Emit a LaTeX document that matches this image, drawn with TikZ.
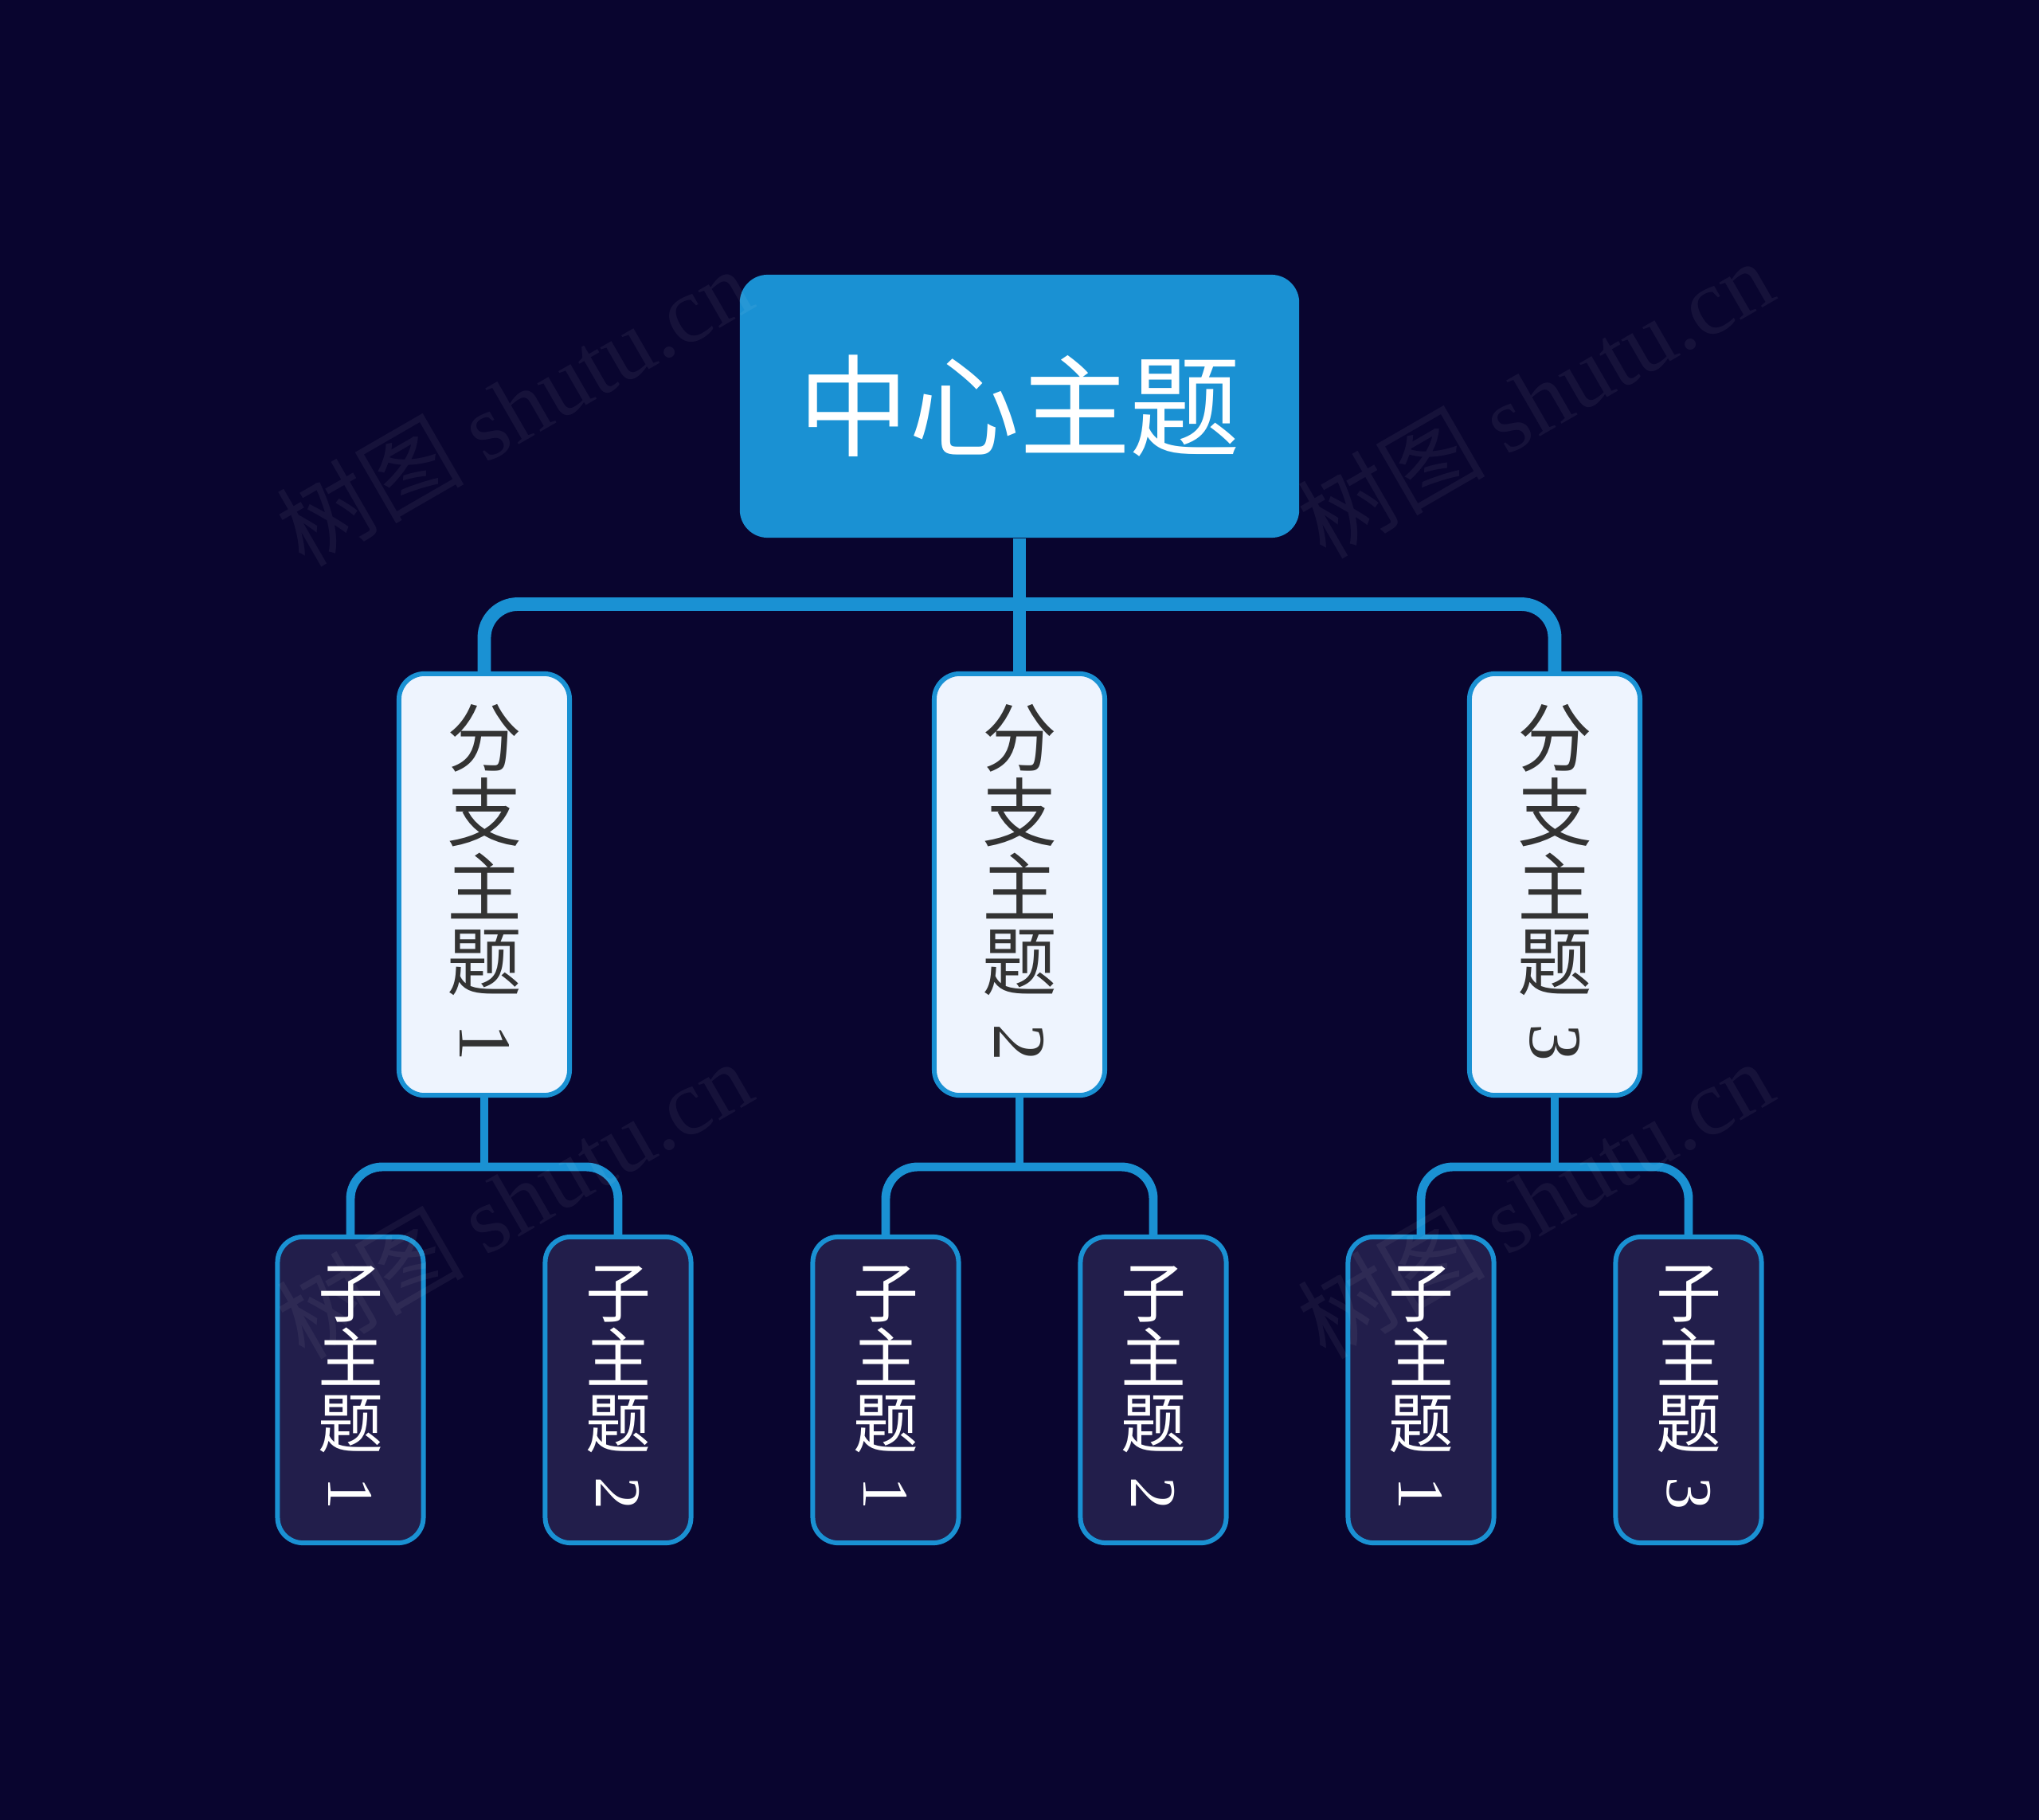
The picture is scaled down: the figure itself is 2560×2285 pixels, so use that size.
\documentclass[tikz,border=0pt]{standalone}
\usepackage{graphicx}
\usepackage{fontspec}
\setmainfont{Noto Sans CJK SC}
\newfontfamily\numf{Liberation Serif}
\newfontfamily\wmlatin{Liberation Serif}
\definecolor{bgc}{HTML}{09052F}
\definecolor{mainblue}{HTML}{1A91D3}
\definecolor{brfill}{HTML}{EEF4FE}
\definecolor{subfill}{HTML}{221E4B}
\definecolor{brtext}{HTML}{333333}
\newcommand{\rotnum}[1]{\raisebox{0.55em}{\rotatebox{-90}{\numf #1}}}
\tikzset{
  centerbox/.style={fill=mainblue, rounded corners=0.35cm, minimum width=7.02cm,
    minimum height=3.30cm, inner sep=0pt, text=white,
    font=\fontsize{39.5pt}{39.5pt}\selectfont},
  branchbox/.style={draw=mainblue, line width=1.7pt, fill=brfill, rounded corners=0.32cm,
    minimum width=2.14cm, minimum height=5.29cm, inner sep=0pt, text=brtext, align=center,
    font=\fontsize{26.7pt}{26.7pt}\selectfont},
  subbox/.style={draw=mainblue, line width=1.7pt, fill=subfill, rounded corners=0.32cm,
    minimum width=1.83cm, minimum height=3.84cm, inner sep=0pt, text=white, align=center,
    font=\fontsize{23.3pt}{23.3pt}\selectfont},
  mainlink/.style={draw=mainblue, line width=4.8pt, rounded corners=0.42cm},
  sublink/.style={draw=mainblue, line width=3.1pt, rounded corners=0.40cm},
  watermark/.style={text=white, text opacity=0.055, rotate=30, inner sep=0pt,
    font=\fontsize{33.5pt}{33.5pt}\selectfont}
}
\begin{document}
\begin{tikzpicture}[x=0.01cm,y=-0.01cm]
\fill[bgc] (0,0) rectangle (2560,2285);
\useasboundingbox (0,0) rectangle (2560,2285);

% nodes
\node[centerbox] (c) at (1280,510) {中心主题};

\node[branchbox] (b1) at (608,1110.5) {分\\支\\主\\题\\\rotnum{1}};
\node[branchbox] (b2) at (1280,1110.5) {分\\支\\主\\题\\\rotnum{2}};
\node[branchbox] (b3) at (1952,1110.5) {分\\支\\主\\题\\\rotnum{3}};

\node[subbox] (s1) at (440,1745) {子\\主\\题\\\rotnum{1}};
\node[subbox] (s2) at (776,1745) {子\\主\\题\\\rotnum{2}};
\node[subbox] (s3) at (1112,1745) {子\\主\\题\\\rotnum{1}};
\node[subbox] (s4) at (1448,1745) {子\\主\\题\\\rotnum{2}};
\node[subbox] (s5) at (1784,1745) {子\\主\\题\\\rotnum{1}};
\node[subbox] (s6) at (2120,1745) {子\\主\\题\\\rotnum{3}};

% junctions
\coordinate (j0) at (1280,758.5);
\coordinate (k1) at (608,1465);
\coordinate (k2) at (1280,1465);
\coordinate (k3) at (1952,1465);

% main connectors
\draw[mainlink] (c.south) -- (b2.north);
\draw[mainlink] (b1.north) |- (j0) -| (b3.north);

% sub connectors
\draw[sublink] (b1.south) -- (k1);
\draw[sublink] (s1.north) |- (k1) -| (s2.north);
\draw[sublink] (b2.south) -- (k2);
\draw[sublink] (s3.north) |- (k2) -| (s4.north);
\draw[sublink] (b3.south) -- (k3);
\draw[sublink] (s5.north) |- (k3) -| (s6.north);

% watermarks
\node[watermark] (wm1) at (645,510) {树图 {\wmlatin shutu.cn}};
\node[watermark] (wm2) at (1927,500) {树图 {\wmlatin shutu.cn}};
\node[watermark] (wm3) at (645,1505) {树图 {\wmlatin shutu.cn}};
\node[watermark] (wm4) at (1927,1505) {树图 {\wmlatin shutu.cn}};
\end{tikzpicture}
\end{document}
